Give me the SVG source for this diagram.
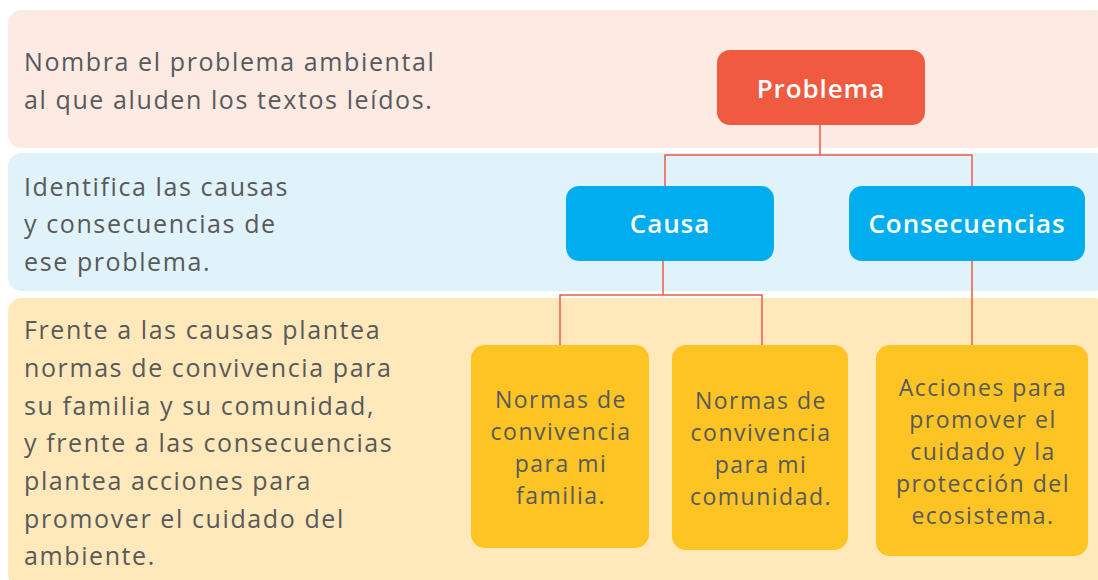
<svg xmlns="http://www.w3.org/2000/svg" width="1098" height="580" viewBox="0 0 1098 580">
<style>
.lt{font-family:"Open Sans","Liberation Sans",sans-serif;font-size:25px;letter-spacing:1.6px;fill:#58595b}
.hd{font-family:"Open Sans","Liberation Sans",sans-serif;font-size:26px;letter-spacing:0.9px;font-weight:600;fill:#ffffff;text-anchor:middle}
.bx{font-family:"Open Sans","Liberation Sans",sans-serif;font-size:23px;letter-spacing:1.5px;fill:#58595b;text-anchor:middle}
.cn{fill:none;stroke:#ee5a45;stroke-width:1.5}
</style>
<rect width="1098" height="580" fill="#ffffff"/>
<g id="bands">
<rect x="8" y="10" width="1100" height="138" rx="14" fill="#fceae3"/>
<rect x="8" y="153" width="1100" height="138" rx="14" fill="#e0f2fa"/>
<rect x="8" y="298" width="1100" height="290" rx="14" fill="#ffe9ba"/>
</g>
<g id="instructions">
<text class="lt" x="24" y="71">Nombra el problema ambiental</text>
<text class="lt" x="24" y="109">al que aluden los textos leídos.</text>
<text class="lt" x="24" y="196">Identifica las causas</text>
<text class="lt" x="24" y="233">y consecuencias de</text>
<text class="lt" x="24" y="271">ese problema.</text>
<text class="lt" x="24" y="339">Frente a las causas plantea</text>
<text class="lt" x="24" y="377">normas de convivencia para</text>
<text class="lt" x="24" y="415">su familia y su comunidad,</text>
<text class="lt" x="24" y="452">y frente a las consecuencias</text>
<text class="lt" x="24" y="490">plantea acciones para</text>
<text class="lt" x="24" y="528">promover el cuidado del</text>
<text class="lt" x="24" y="565">ambiente.</text>
</g>
<g id="connectors">
<path class="cn" d="M820,125 V155 M665,186 V155 H972 V186"/>
<path class="cn" d="M663,261 V295 M560,345 V295 H762 V345"/>
<path class="cn" d="M972,261 V345"/>
</g>
<g id="problema">
<rect x="717" y="50" width="208" height="75" rx="13" fill="#f05a40"/>
<text class="hd" x="821" y="98">Problema</text>
</g>
<g id="causa">
<rect x="566" y="186" width="208" height="75" rx="13" fill="#00aeef"/>
<text class="hd" x="670" y="233">Causa</text>
</g>
<g id="consecuencias">
<rect x="849" y="186" width="236" height="75" rx="13" fill="#00aeef"/>
<text class="hd" x="967" y="233">Consecuencias</text>
</g>
<g id="familia">
<rect x="471" y="345" width="178" height="203" rx="14" fill="#fdc424"/>
<text class="bx" x="561" y="408">Normas de</text>
<text class="bx" x="561" y="440">convivencia</text>
<text class="bx" x="561" y="472">para mi</text>
<text class="bx" x="561" y="504">familia.</text>
</g>
<g id="comunidad">
<rect x="672" y="345" width="176" height="205" rx="14" fill="#fdc424"/>
<text class="bx" x="761" y="409">Normas de</text>
<text class="bx" x="761" y="441">convivencia</text>
<text class="bx" x="761" y="473">para mi</text>
<text class="bx" x="761" y="505">comunidad.</text>
</g>
<g id="acciones">
<rect x="876" y="345" width="212" height="211" rx="14" fill="#fdc424"/>
<text class="bx" x="983" y="396">Acciones para</text>
<text class="bx" x="983" y="428">promover el</text>
<text class="bx" x="983" y="460">cuidado y la</text>
<text class="bx" x="983" y="492">protección del</text>
<text class="bx" x="983" y="524">ecosistema.</text>
</g>
</svg>
